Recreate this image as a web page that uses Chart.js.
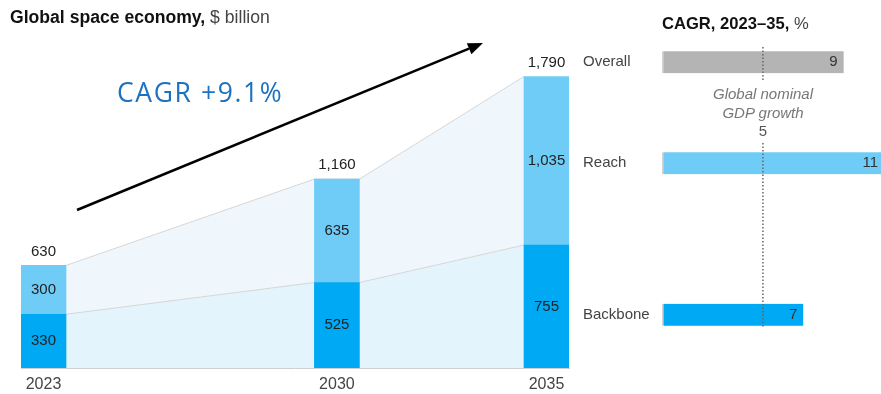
<!DOCTYPE html>
<html>
<head>
<meta charset="utf-8">
<script src="https://cdn.jsdelivr.net/npm/chart.js@4"></script>
<style>
  body { margin: 0; width: 881px; height: 394px; background: #fff; position: relative; overflow: hidden;
         font-family: "Liberation Sans", Arial, sans-serif; }
  #leftWrap { position: absolute; left: 0; top: 0; width: 580px; height: 394px; }
  #rightWrap { position: absolute; left: 575px; top: 0; width: 306px; height: 394px; }
  .txt { position: absolute; white-space: nowrap; font-size: 15px; line-height: 18px; color: #111; }
  .txt b { font-weight: bold; }
  .txt span { color: #444; }
  #title1 { left: 10px; top: 7px; font-size: 17.6px; line-height: 20px; }
  #title2 { left: 662px; top: 14px; font-size: 16.6px; line-height: 20px; }
  #cagr { left: 117px; top: 76px; font-family: "Open Sans", sans-serif; font-size: 26.5px; line-height: 32px;
          letter-spacing: 1.6px; color: #1d72c0; }
  #gdp { left: 703px; top: 85px; width: 120px; text-align: center; color: #777; font-style: italic; line-height: 18.5px; }
  #gdp .num { font-style: normal; color: #555; }
  svg { position: absolute; left: 0; top: 0; }
</style>
</head>
<body>
<div id="leftWrap"><canvas id="left"></canvas></div>
<div id="rightWrap"><canvas id="right"></canvas></div>
<div class="txt" id="title1"><b>Global space economy,</b><span> $ billion</span></div>
<div class="txt" id="title2"><b>CAGR, 2023–35,</b><span> %</span></div>
<div class="txt" id="cagr">CAGR +9.1%</div>
<div class="txt" id="gdp">Global nominal<br>GDP growth<br><span class="num">5</span></div>
<svg width="881" height="394">
  <line x1="77" y1="210" x2="469" y2="48.7" stroke="#000" stroke-width="2.5"/>
  <polygon points="483,43 471.4,54.2 466.8,43.2" fill="#000"/>
</svg>
<script>
// valori ($ miliardi)
const years = [2023, 2030, 2035];
const backbone = [330, 525, 755];
const reach = [300, 635, 1035];
const totals = [630, 1160, 1790];

// CAGR 2023-35, %
const cagrCats = ['Overall', 'Reach', 'Backbone'];
const cagrValues = [9, 11, 7];
const gdpGrowth = 5;

const blue = '#00a9f4';
const lightBlue = '#6fccf6';
const grey = '#b4b4b4';

const hw = 0.537; // mezza larghezza barra, in anni
function edgePoints(vals) {
  const pts = [];
  years.forEach((yr, i) => {
    if (i > 0) pts.push({ x: yr - hw, y: vals[i] });
    if (i < years.length - 1) pts.push({ x: yr + hw, y: vals[i] });
  });
  return pts;
}

const leftLabels = {
  id: 'leftLabels',
  afterDatasetsDraw(chart) {
    const ctx = chart.ctx;
    ctx.save();
    ctx.font = '15px "Liberation Sans", Arial, sans-serif';
    ctx.textAlign = 'center';
    ctx.textBaseline = 'middle';
    ctx.fillStyle = '#222';
    [0, 1].forEach(di => {
      const meta = chart.getDatasetMeta(di);
      const vals = di === 0 ? backbone : reach;
      meta.data.forEach((el, i) => {
        ctx.fillText(vals[i].toLocaleString('en-US'), el.x, (el.y + el.base) / 2);
      });
    });
    const top = chart.getDatasetMeta(1);
    top.data.forEach((el, i) => {
      ctx.fillText(totals[i].toLocaleString('en-US'), el.x, el.y - 14);
    });
    ctx.restore();
  }
};

new Chart(document.getElementById('left'), {
  data: {
    datasets: [
      { type: 'bar', label: 'Backbone', data: years.map((x, i) => ({ x, y: backbone[i] })),
        backgroundColor: blue, barThickness: 45, stack: 'bars', order: 0 },
      { type: 'bar', label: 'Reach', data: years.map((x, i) => ({ x, y: reach[i] })),
        backgroundColor: lightBlue, barThickness: 45, stack: 'bars', order: 0 },
      { type: 'line', data: edgePoints(backbone), stack: 'area', fill: 'origin', order: 1,
        backgroundColor: '#e4f4fc', borderColor: '#d6d6d6', borderWidth: 1, pointRadius: 0, tension: 0 },
      { type: 'line', data: edgePoints(reach), stack: 'area', fill: '-1', order: 1,
        backgroundColor: '#eff7fd', borderColor: '#d6d6d6', borderWidth: 1, pointRadius: 0, tension: 0 }
    ]
  },
  options: {
    responsive: true,
    maintainAspectRatio: false,
    animation: false,
    layout: { padding: { left: 21, right: 11, top: 26, bottom: 0 } },
    plugins: { legend: { display: false }, tooltip: { enabled: false } },
    scales: {
      x: {
        type: 'linear', stacked: true, offset: false, min: years[0] - hw, max: years[years.length - 1] + hw,
        afterBuildTicks: s => { s.ticks = years.map(v => ({ value: v })); },
        afterFit: s => { s.height = 26; },
        grid: { display: false, drawTicks: false },
        border: { display: true, color: '#cfcfcf' },
        ticks: { callback: v => String(v), font: { size: 16, family: '"Liberation Sans", Arial' }, color: '#444', padding: 7, maxRotation: 0 }
      },
      y: { display: false, stacked: true, min: 0, max: 2100 }
    }
  },
  plugins: [leftLabels]
});

// grafico CAGR a destra
const slots = [0, 2, 5];
const slotLabels = ['', '', '', '', '', ''];
const slotValues = [null, null, null, null, null, null];
const slotColors = [grey, grey, grey, grey, grey, grey];
const cagrColors = [grey, lightBlue, blue];
slots.forEach((s, i) => { slotLabels[s] = cagrCats[i]; slotValues[s] = cagrValues[i]; slotColors[s] = cagrColors[i]; });

const rightExtras = {
  id: 'rightExtras',
  afterDatasetsDraw(chart) {
    const ctx = chart.ctx;
    const x5 = chart.scales.x.getPixelForValue(gdpGrowth);
    ctx.save();
    ctx.strokeStyle = '#666';
    ctx.lineWidth = 1.5;
    ctx.setLineDash([1.5, 2]);
    ctx.beginPath();
    ctx.moveTo(x5, 47); ctx.lineTo(x5, 82);
    ctx.moveTo(x5, 143); ctx.lineTo(x5, 328);
    ctx.stroke();
    ctx.setLineDash([]);
    ctx.font = '15px "Liberation Sans", Arial, sans-serif';
    ctx.textAlign = 'right';
    ctx.textBaseline = 'middle';
    ctx.fillStyle = '#333';
    const meta = chart.getDatasetMeta(0);
    meta.data.forEach((el, i) => {
      if (slotValues[i] == null) return;
      ctx.fillText(String(slotValues[i]), el.x - 6, el.y);
    });
    ctx.restore();
  }
};

new Chart(document.getElementById('right'), {
  type: 'bar',
  data: {
    labels: slotLabels,
    datasets: [{
      data: slotValues, backgroundColor: slotColors, barThickness: 22,
      borderWidth: { left: 2, top: 0, right: 0, bottom: 0 }, borderColor: '#d2d2d2', borderSkipped: false
    }]
  },
  options: {
    indexAxis: 'y',
    responsive: true,
    maintainAspectRatio: false,
    animation: false,
    layout: { padding: { left: 8, right: 0, top: 37, bottom: 54 } },
    plugins: { legend: { display: false }, tooltip: { enabled: false } },
    scales: {
      x: { display: false, min: 0, max: 10.85 },
      y: {
        grid: { display: false }, border: { display: false },
        ticks: { font: { size: 15, family: '"Liberation Sans", Arial' }, color: '#444', crossAlign: 'far', padding: 0 },
        afterFit: s => { s.width = 79; }
      }
    }
  },
  plugins: [rightExtras]
});
</script>
</body>
</html>
